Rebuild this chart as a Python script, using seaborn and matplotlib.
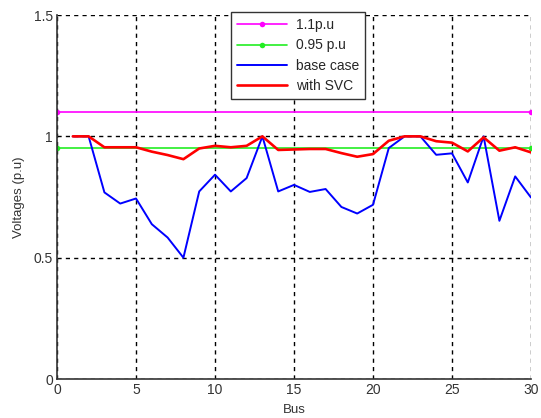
import matplotlib
matplotlib.use('Agg')
import matplotlib.pyplot as plt
import seaborn as sns
import pandas as pd

# bus voltage profile
bus = list(range(1, 31))
base_case = [1.0, 1.0, 0.769, 0.723, 0.744, 0.638, 0.583, 0.50, 0.773, 0.842,
             0.773, 0.828, 1.0, 0.773, 0.80, 0.771, 0.783, 0.709, 0.682, 0.718,
             0.952, 1.0, 1.0, 0.924, 0.93, 0.81, 1.0, 0.652, 0.835, 0.748]
with_svc = [1.0, 1.0, 0.955, 0.955, 0.955, 0.937, 0.923, 0.906, 0.95, 0.961,
            0.955, 0.961, 1.0, 0.944, 0.946, 0.948, 0.948, 0.931, 0.916, 0.927,
            0.982, 1.0, 1.0, 0.98, 0.974, 0.938, 0.996, 0.941, 0.955, 0.934]
limit_x = [0, 30]
upper_limit = [1.1, 1.1]
lower_limit = [0.95, 0.95]

sns.set_style('white')
plt.rcParams['font.family'] = ['Liberation Sans', 'DejaVu Sans']

fig = plt.figure(figsize=(5.41, 4.18), dpi=100)
ax = fig.add_axes([0.1054, 0.0933, 0.8761, 0.8707])

lim = pd.DataFrame({'bus': limit_x, 'up': upper_limit, 'low': lower_limit})
prof = pd.DataFrame({'bus': bus, 'base': base_case, 'svc': with_svc})

sns.lineplot(data=lim, x='bus', y='up', ax=ax, color='#ff00ff', lw=1.2,
             marker='.', markersize=8, markeredgewidth=0, label='1.1p.u')
sns.lineplot(data=lim, x='bus', y='low', ax=ax, color='#22ee22', lw=1.2,
             marker='.', markersize=8, markeredgewidth=0, label='0.95 p.u')
sns.lineplot(data=prof, x='bus', y='base', ax=ax, color='#0000ff', lw=1.4,
             label='base case')
sns.lineplot(data=prof, x='bus', y='svc', ax=ax, color='#ff0000', lw=1.9,
             label='with SVC')

ax.set_xlim(0, 30)
ax.set_ylim(0, 1.5)
ax.set_xticks([0, 5, 10, 15, 20, 25, 30])
ax.set_yticks([0, 0.5, 1, 1.5])
ax.set_yticklabels(['0', '0.5', '1', '1.5'])
ax.grid(True, color='black', linestyle=(0, (3, 3)), linewidth=1.0)
ax.set_axisbelow(True)
for s in ['top', 'right']:
    ax.spines[s].set_visible(False)
for s in ['left', 'bottom']:
    ax.spines[s].set_color('#333333')
    ax.spines[s].set_linewidth(1.2)
ax.tick_params(labelsize=10, colors='#333333', length=0, pad=3)
ax.set_xlabel('Bus', fontsize=9.5, color='#333333', labelpad=5)
ax.set_ylabel('Voltages (p.u)', fontsize=9.5, color='#333333', labelpad=6)

leg = ax.legend(loc='upper left', bbox_to_anchor=(231 / 541, 1 - 12 / 418),
                bbox_transform=fig.transFigure, fontsize=10, frameon=True,
                fancybox=False, edgecolor='#333333', framealpha=1,
                handlelength=3.6, borderpad=0.45, labelspacing=0.45,
                borderaxespad=0, handletextpad=0.6)
leg.get_frame().set_linewidth(1.0)

fig.savefig('out.png', dpi=100)
